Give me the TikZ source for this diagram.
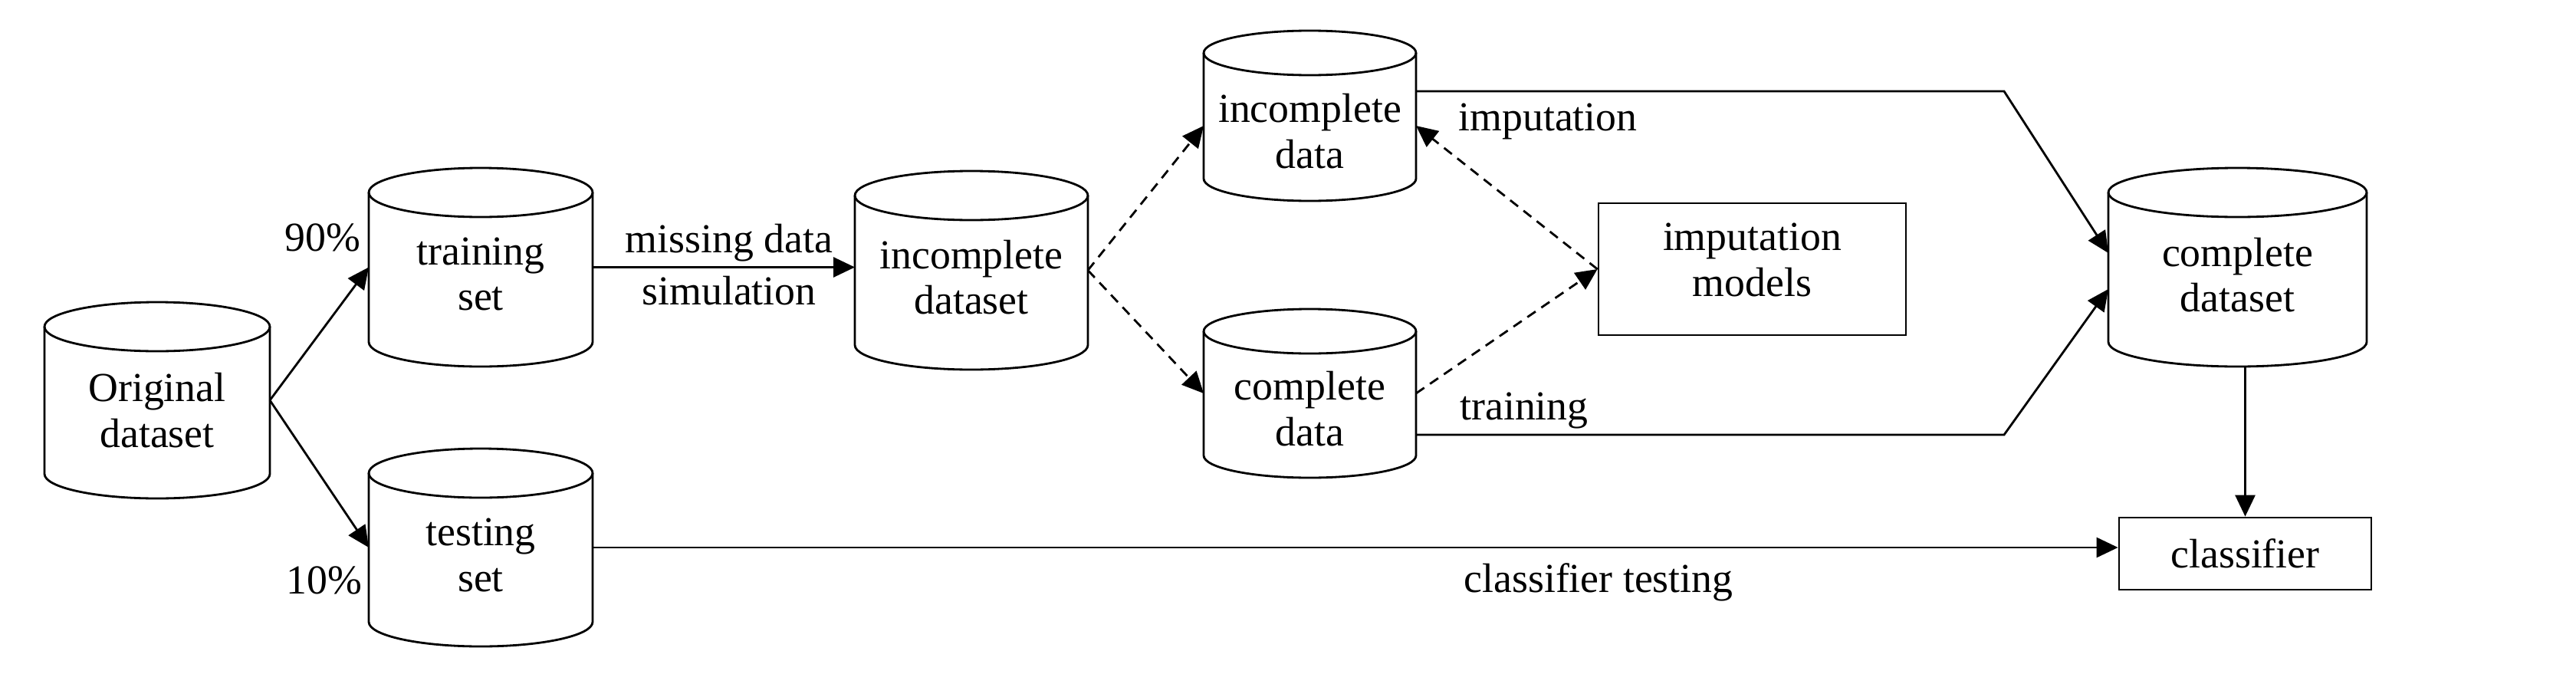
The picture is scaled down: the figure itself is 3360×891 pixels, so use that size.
\documentclass[tikz,border=0pt]{standalone}
\usepackage{fontspec}
\setmainfont{Liberation Serif}
\usetikzlibrary{arrows.meta}
\newcommand{\drawcyl}[3]{%
  \draw[cylline] ([yshift=-#3]#1.north west) -- ([yshift=#3]#1.south west)
     arc[start angle=180,end angle=360,x radius=#2,y radius=#3]
     -- ([yshift=-#3]#1.north east);
  \draw[cylline] ([yshift=-#3]#1.north) ellipse[x radius=#2,y radius=#3];
}
\begin{document}
\begin{tikzpicture}[x=0.1mm, y=-0.1mm,
  every node/.style={font=\fontsize{15.3}{17}\selectfont},
  txt/.style={align=center, inner sep=0pt},
  cyl/.style 2 args={minimum width=#1, minimum height=#2, inner sep=0pt, outer sep=0pt},
  rectbox/.style={draw, line width=0.8pt, inner sep=0pt},
  conn/.style={line width=0.8pt, -{Triangle[length=2.8mm,width=2.6mm]}},
  dconn/.style={conn, dash pattern=on 1.3mm off 0.9mm},
  cylline/.style={line width=0.8pt}]
\useasboundingbox (0,0) rectangle (3360,891);

% cylinders
\node[cyl={29.4mm}{25.6mm}, label={[txt,yshift=-1.3mm]center:Original\\dataset}] (orig) at (205,522) {};
\node[cyl={29.2mm}{25.9mm}, label={[txt,yshift=-0.9mm]center:training\\set}] (train) at (627,348.5) {};
\node[cyl={29.2mm}{25.8mm}, label={[txt,yshift=-1mm]center:testing\\set}] (test) at (627,714) {};
\node[cyl={30.4mm}{25.9mm}, label={[txt,yshift=-0.9mm]center:incomplete\\dataset}] (incds) at (1267,352.5) {};
\node[cyl={27.7mm}{22.2mm}, label={[txt,yshift=-2mm]center:incomplete\\data}] (incd) at (1708.5,151) {};
\node[cyl={27.7mm}{22mm}, label={[txt,yshift=-2mm]center:complete\\data}] (cd) at (1708.5,513) {};
\node[cyl={33.7mm}{25.9mm}, label={[txt,yshift=-1mm]center:complete\\dataset}] (cds) at (2918.5,348.5) {};

\drawcyl{orig}{14.7mm}{3.2mm}
\drawcyl{train}{14.6mm}{3.2mm}
\drawcyl{test}{14.6mm}{3.2mm}
\drawcyl{incds}{15.2mm}{3.2mm}
\drawcyl{incd}{13.85mm}{2.9mm}
\drawcyl{cd}{13.85mm}{2.9mm}
\drawcyl{cds}{16.85mm}{3.2mm}

% boxes
\node[rectbox, minimum width=40.1mm, minimum height=17.2mm, label={[txt,yshift=1.2mm]center:imputation\\models}] (impm) at (2285.5,351) {};
\node[rectbox, minimum width=32.9mm, minimum height=9.4mm] (clf) at (2928.5,722) {classifier};

% labels
\node[anchor=base] (p90) at (421,327) {90\%};
\node[anchor=base] (p10) at (423,774) {10\%};
\node[anchor=base] (lmiss) at (951,329) {missing data};
\node[anchor=base] (lsim) at (951,397) {simulation};
\node[anchor=base] (limp) at (2019,170) {imputation};
\node[anchor=base] (ltrain) at (1988,547) {training};
\node[anchor=base] (ltest) at (2085,772) {classifier testing};

% connectors
\draw[conn] (orig.east) -- (train.west);
\draw[conn] (orig.east) -- (test.west);
\draw[conn] (train.east) -- (train.east -| incds.west);
\draw[dconn] (incds.east) -- ([yshift=-1.3mm]incd.west);
\draw[dconn] (incds.east) -- (cd.west);
\draw[dconn] (cd.east) -- (impm.west);
\draw[dconn] (impm.west) -- ([yshift=-1.3mm]incd.east);
\coordinate (k1) at (2614,119);
\coordinate (k2) at (2614,567);
\draw[conn] (incd.east |- k1) -- (k1) -- ([yshift=1.85mm]cds.west);
\draw[conn] (cd.east |- k2) -- (k2) -- ([yshift=-2.85mm]cds.west);
\draw[conn] (test.east) -- (test.east -| clf.west);
\draw[conn] (clf.north |- cds.south) -- (clf.north);
\end{tikzpicture}
\end{document}
